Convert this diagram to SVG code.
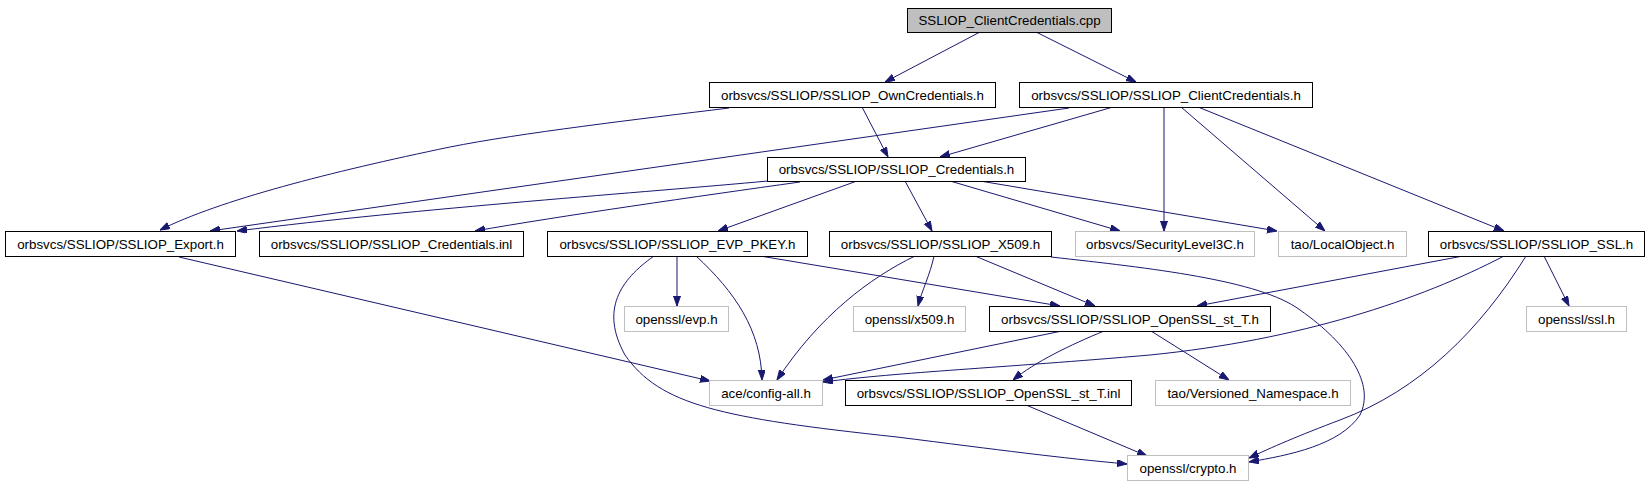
<svg xmlns="http://www.w3.org/2000/svg" width="1648" height="485" viewBox="0 0 1648 485">
<style>
.n rect{fill:#ffffff;stroke:#000000;stroke-width:1}
.g rect{fill:#ffffff;stroke:#bfbfbf;stroke-width:1}
.r rect{fill:#bfbfbf;stroke:#000000;stroke-width:1}
text{font-family:"Liberation Sans",Arial,Helvetica,sans-serif;font-size:13.33px;fill:#000000;text-anchor:middle}
#edges path{fill:none;stroke:#191970;stroke-width:1;marker-end:url(#ah)}
</style>
<defs>
<marker id="ah" markerUnits="userSpaceOnUse" markerWidth="10" markerHeight="8" refX="10" refY="3.5" orient="auto">
<path d="M0,0 L10,3.5 L0,7 z" fill="#191970" stroke="#191970" stroke-width="1"/>
</marker>
</defs>
<rect x="0" y="0" width="1648" height="485" fill="#ffffff"/>
<g id="edges">
<path d="M980,32 L885,82"/>
<path d="M1036,32 L1136,82"/>
<path d="M729,108 C640,119 520,133 450,147 C330,172 220,200 160,230"/>
<path d="M1069,108 L210,231"/>
<path d="M768,181 C650,192 420,208 237,231"/>
<path d="M800,182 C700,196 560,216 475,231"/>
<path d="M857,181 L718,231"/>
<path d="M905,181 L932,231"/>
<path d="M950,181 L1120,231"/>
<path d="M980,181 L1277,231"/>
<path d="M862,107 L888,157"/>
<path d="M1113,107 L940,157"/>
<path d="M1164,107 L1164,231"/>
<path d="M1181,107 L1325,231"/>
<path d="M1198,107 L1504,231"/>
<path d="M677,256 L677,306"/>
<path d="M696,256 C735,292 761,330 762,380"/>
<path d="M654,256 C620,280 600,310 625,355 C660,405 720,418 897,437 C1000,450 1060,458 1127,464"/>
<path d="M760,256 L1060,306"/>
<path d="M915,256 C870,278 820,315 777,380"/>
<path d="M934,256 C930,275 922,290 918,306"/>
<path d="M975,256 L1095,306"/>
<path d="M1051,257 C1150,268 1260,280 1300,310 C1350,345 1375,385 1360,415 C1340,445 1290,455 1249,462"/>
<path d="M1463,256 L1197,306"/>
<path d="M1504,256 C1420,300 1300,340 1150,355 C1000,368 900,372 823,382"/>
<path d="M1526,256 C1480,330 1420,390 1340,420 C1300,435 1270,448 1249,458"/>
<path d="M1544,256 L1569,306"/>
<path d="M1062,331 L823,380"/>
<path d="M1104,331 C1070,345 1035,362 1013,380"/>
<path d="M1151,331 L1229,380"/>
<path d="M179,257 L710,381"/>
<path d="M1026,405 L1147,456"/>
</g>
<g id="root" class="r"><rect x="907.5" y="8.5" width="204" height="24"/><text x="1009.5" y="25">SSLIOP_ClientCredentials.cpp</text></g>
<g id="own" class="n"><rect x="709.5" y="82.5" width="286" height="25"/><text x="852.5" y="99.5">orbsvcs/SSLIOP/SSLIOP_OwnCredentials.h</text></g>
<g id="clienth" class="n"><rect x="1019.5" y="82.5" width="293" height="25"/><text x="1166" y="99.5">orbsvcs/SSLIOP/SSLIOP_ClientCredentials.h</text></g>
<g id="cred" class="n"><rect x="767.5" y="157.5" width="258" height="24"/><text x="896.5" y="174">orbsvcs/SSLIOP/SSLIOP_Credentials.h</text></g>
<g id="export" class="n"><rect x="5.5" y="231.5" width="230" height="25"/><text x="120.5" y="248.5">orbsvcs/SSLIOP/SSLIOP_Export.h</text></g>
<g id="credinl" class="n"><rect x="259.5" y="231.5" width="264" height="25"/><text x="391.5" y="248.5">orbsvcs/SSLIOP/SSLIOP_Credentials.inl</text></g>
<g id="evppkey" class="n"><rect x="547.5" y="231.5" width="260" height="25"/><text x="677.5" y="248.5">orbsvcs/SSLIOP/SSLIOP_EVP_PKEY.h</text></g>
<g id="x509" class="n"><rect x="829.5" y="231.5" width="222" height="25"/><text x="940.5" y="248.5">orbsvcs/SSLIOP/SSLIOP_X509.h</text></g>
<g id="sec3c" class="g"><rect x="1075.5" y="231.5" width="179" height="25"/><text x="1165" y="248.5">orbsvcs/SecurityLevel3C.h</text></g>
<g id="localobj" class="g"><rect x="1278.5" y="231.5" width="128" height="25"/><text x="1342.5" y="248.5">tao/LocalObject.h</text></g>
<g id="ssl" class="n"><rect x="1428.5" y="231.5" width="216" height="25"/><text x="1536.5" y="248.5">orbsvcs/SSLIOP/SSLIOP_SSL.h</text></g>
<g id="evph" class="g"><rect x="624.5" y="306.5" width="104" height="25"/><text x="676.5" y="323.5">openssl/evp.h</text></g>
<g id="x509h" class="g"><rect x="853.5" y="306.5" width="112" height="25"/><text x="909.5" y="323.5">openssl/x509.h</text></g>
<g id="stt" class="n"><rect x="989.5" y="306.5" width="281" height="25"/><text x="1130" y="323.5">orbsvcs/SSLIOP/SSLIOP_OpenSSL_st_T.h</text></g>
<g id="sslh" class="g"><rect x="1526.5" y="306.5" width="100" height="25"/><text x="1576.5" y="323.5">openssl/ssl.h</text></g>
<g id="config" class="g"><rect x="709.5" y="380.5" width="113" height="25"/><text x="766" y="397.5">ace/config-all.h</text></g>
<g id="sttinl" class="n"><rect x="845.5" y="380.5" width="286" height="25"/><text x="988.5" y="397.5">orbsvcs/SSLIOP/SSLIOP_OpenSSL_st_T.inl</text></g>
<g id="vns" class="g"><rect x="1155.5" y="380.5" width="195" height="25"/><text x="1253" y="397.5">tao/Versioned_Namespace.h</text></g>
<g id="crypto" class="g"><rect x="1127.5" y="455.5" width="121" height="25"/><text x="1188" y="472.5">openssl/crypto.h</text></g>
</svg>
